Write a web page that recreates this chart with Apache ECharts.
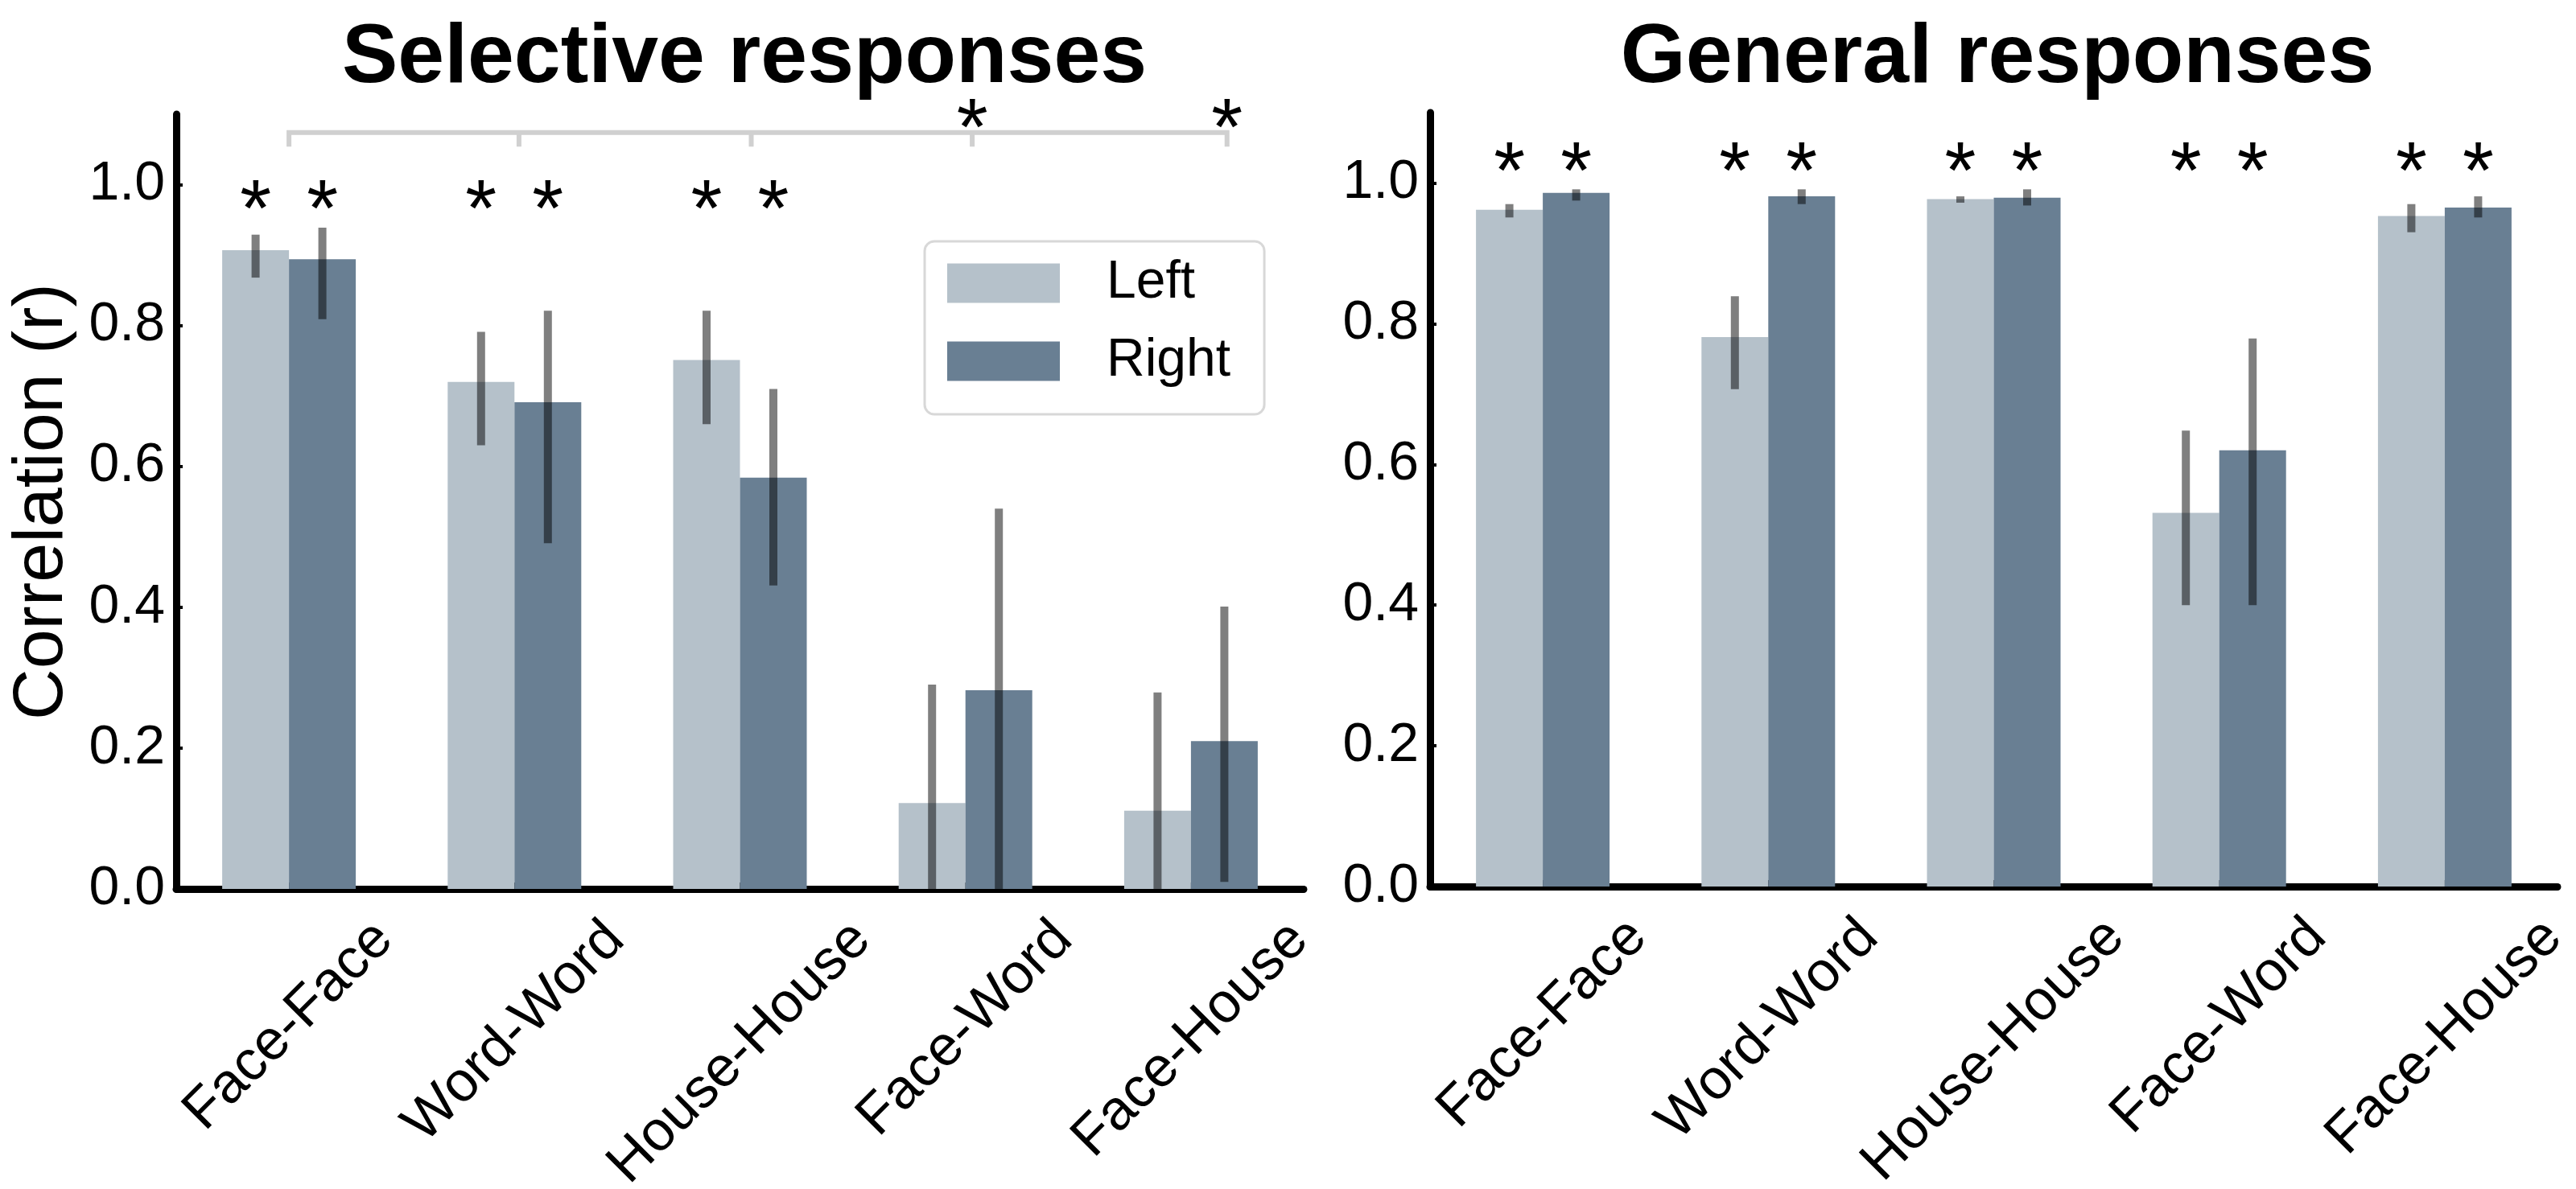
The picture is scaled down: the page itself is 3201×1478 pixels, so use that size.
<!DOCTYPE html>
<html>
<head>
<meta charset="utf-8">
<script src="https://cdn.jsdelivr.net/npm/echarts@6/dist/echarts.min.js"></script>
<style>
html,body{margin:0;padding:0;background:#fff;}
#c{width:3201px;height:1478px;}
</style>
</head>
<body>
<div id="c"></div>
<script>
// ---------------- data ----------------
const categories = ['Face-Face', 'Word-Word', 'House-House', 'Face-Word', 'Face-House'];
const seriesNames = ['Left', 'Right'];
const yTicks = [0.0, 0.2, 0.4, 0.6, 0.8, 1.0];

// Selective responses
const selLeft      = [0.907, 0.720, 0.751, 0.122, 0.111];
const selRight     = [0.894, 0.691, 0.584, 0.282, 0.210];
const selLeftLow   = [0.868, 0.630, 0.660, 0.000, 0.000];
const selLeftHigh  = [0.929, 0.791, 0.821, 0.290, 0.279];
const selRightLow  = [0.809, 0.491, 0.431, 0.000, 0.010];
const selRightHigh = [0.939, 0.821, 0.710, 0.540, 0.401];
const selStarCats  = [0, 1, 2];
const selStarLevel = 0.984;
const bracketX     = [0.0, 1.02, 2.05, 3.03, 4.16];
const bracketLevel = 1.074;
const bracketTickLow = 1.054;
const bracketStarX = [3.03, 4.16];
const bracketStarLevel = 1.10;

// General responses
const genLeft      = [0.962, 0.781, 0.977, 0.531, 0.953];
const genRight     = [0.986, 0.981, 0.979, 0.620, 0.965];
const genLeftLow   = [0.951, 0.707, 0.972, 0.400, 0.930];
const genLeftHigh  = [0.970, 0.839, 0.981, 0.648, 0.970];
const genRightLow  = [0.975, 0.970, 0.968, 0.400, 0.951];
const genRightHigh = [0.991, 0.991, 0.991, 0.779, 0.981];
const genStarCats  = [0, 1, 2, 3, 4];
const genStarLevel = 1.036;

// ---------------- style ----------------
const FONT = '"Liberation Sans", Arial, sans-serif';
const COL_L = '#b5c1ca';
const COL_R = '#697f93';
const BAR_W = 83;
const XLAB_FS = 70;
const XLAB_LH = 80;
const STAR_FS = 100;
const STAR_DY = 22;

// measure label widths so rotated labels are centred under ticks (matplotlib style)
const mctx = document.createElement('canvas').getContext('2d');
mctx.font = XLAB_FS + 'px ' + FONT;
const rich = {};
categories.forEach((c, i) => {
  const w = mctx.measureText(c).width;
  const p = Math.round(0.5 * (w + XLAB_LH));
  rich['p' + i] = {fontSize: XLAB_FS, fontFamily: FONT, color: '#000', lineHeight: XLAB_LH, padding: [p, p, 0, 0]};
});

function xAxisCfg(gi) {
  return {
    type: 'category', gridIndex: gi, data: categories,
    axisLine: {show: true, onZero: false, lineStyle: {color: '#000', width: 9}},
    axisTick: {show: true, inside: true, length: 8, alignWithLabel: true, lineStyle: {color: '#000', width: 4}},
    axisLabel: {
      interval: 0, rotate: 45, align: 'center', verticalAlign: 'middle', margin: 24,
      formatter: (v) => '{p' + categories.indexOf(v) + '|' + v + '}',
      rich: rich
    },
    splitLine: {show: false}
  };
}
function yAxisCfg(gi, withName) {
  const o = {
    type: 'value', gridIndex: gi, min: 0, max: 1.1, interval: 0.2,
    axisLine: {show: true, onZero: false, lineStyle: {color: '#000', width: 9}},
    axisTick: {show: true, inside: true, length: 8, lineStyle: {color: '#000', width: 4}, customValues: yTicks},
    axisLabel: {fontSize: 68, fontFamily: FONT, color: '#000', margin: 14, customValues: yTicks,
      formatter: (v) => (v > 1.05 ? '' : v.toFixed(1))},
    splitLine: {show: false}
  };
  if (withName) {
    o.name = 'Correlation (r)';
    o.nameLocation = 'middle';
    o.nameRotate = 90;
    o.nameGap = 122;
    o.nameTextStyle = {fontSize: 88, fontFamily: FONT, color: '#000'};
  }
  return o;
}

function errData(low, high, side) {
  return low.map((l, i) => [i, l, high[i], side]);
}
function errSeries(name, xi, yi, data) {
  return {
    type: 'custom', name: name + ' err', xAxisIndex: xi, yAxisIndex: yi, z: 5,
    data: data, silent: true,
    renderItem: (params, api) => {
      const a = api.coord([api.value(0), api.value(1)]);
      const b = api.coord([api.value(0), api.value(2)]);
      const x = a[0] + api.value(3) * BAR_W / 2;
      return {type: 'line', shape: {x1: x, y1: a[1], x2: x, y2: b[1]},
        style: {stroke: 'rgba(0,0,0,0.5)', lineWidth: 10, lineCap: 'butt'}};
    }
  };
}
function starSeries(xi, yi, data) {
  return {
    type: 'custom', xAxisIndex: xi, yAxisIndex: yi, z: 6, data: data, silent: true,
    renderItem: (params, api) => {
      const p = api.coord([api.value(0), api.value(1)]);
      return {type: 'text', x: p[0] + api.value(2) * BAR_W / 2, y: p[1] + STAR_DY,
        style: {text: '*', fontSize: STAR_FS, fontFamily: FONT, fill: '#000', align: 'center', verticalAlign: 'middle'}};
    }
  };
}
function starData(cats, level) {
  const d = [];
  cats.forEach(c => { d.push([c, level, -1]); d.push([c, level, 1]); });
  return d;
}
// bracket path: horizontal line with downward ticks
const bracketData = [];
bracketX.forEach((x, i) => {
  if (i === 0) { bracketData.push([x, bracketTickLow]); bracketData.push([x, bracketLevel]); }
  else { bracketData.push([x, bracketLevel]); bracketData.push([x, bracketTickLow]); bracketData.push([x, bracketLevel]); }
});

const option = {
  backgroundColor: '#fff',
  animation: false,
  title: [
    {text: 'Selective responses', left: 920, top: 16, textAlign: 'center',
      textStyle: {fontSize: 104, fontWeight: 'bold', fontFamily: FONT, color: '#000'}},
    {text: 'General responses', left: 2477, top: 16, textAlign: 'center',
      textStyle: {fontSize: 104, fontWeight: 'bold', fontFamily: FONT, color: '#000'}}
  ],
  legend: {
    data: seriesNames, orient: 'vertical', left: 1149, top: 300,
    itemWidth: 140, itemHeight: 49, itemGap: 31, icon: 'rect',
    padding: [19, 42, 33, 28],
    borderColor: '#d8d8d8', borderWidth: 3, borderRadius: 12,
    textStyle: {fontSize: 66, fontFamily: FONT, color: '#000', padding: [0, 0, 0, 53]},
    selectedMode: false
  },
  grid: [
    {left: 219, top: 142, width: 1401, height: 963, outerBoundsMode: 'none', containLabel: false},
    {left: 1777, top: 140, width: 1401, height: 962, outerBoundsMode: 'none', containLabel: false}
  ],
  xAxis: [
    xAxisCfg(0), xAxisCfg(1),
    {type: 'value', gridIndex: 0, min: -0.5, max: 4.5, show: false}
  ],
  yAxis: [yAxisCfg(0, true), yAxisCfg(1, false)],
  series: [
    {type: 'bar', name: 'Left', xAxisIndex: 0, yAxisIndex: 0, data: selLeft, barWidth: BAR_W, barGap: '0%', itemStyle: {color: COL_L}},
    {type: 'bar', name: 'Right', xAxisIndex: 0, yAxisIndex: 0, data: selRight, barWidth: BAR_W, barGap: '0%', itemStyle: {color: COL_R}},
    {type: 'bar', name: 'Left', xAxisIndex: 1, yAxisIndex: 1, data: genLeft, barWidth: BAR_W, barGap: '0%', itemStyle: {color: COL_L}},
    {type: 'bar', name: 'Right', xAxisIndex: 1, yAxisIndex: 1, data: genRight, barWidth: BAR_W, barGap: '0%', itemStyle: {color: COL_R}},
    errSeries('selL', 0, 0, errData(selLeftLow, selLeftHigh, -1)),
    errSeries('selR', 0, 0, errData(selRightLow, selRightHigh, 1)),
    errSeries('genL', 1, 1, errData(genLeftLow, genLeftHigh, -1)),
    errSeries('genR', 1, 1, errData(genRightLow, genRightHigh, 1)),
    starSeries(0, 0, starData(selStarCats, selStarLevel)),
    starSeries(1, 1, starData(genStarCats, genStarLevel)),
    starSeries(2, 0, bracketStarX.map(x => [x, bracketStarLevel, 0])),
    {type: 'line', xAxisIndex: 2, yAxisIndex: 0, data: bracketData, symbol: 'none', silent: true,
      lineStyle: {color: '#d0d0d0', width: 6, join: 'miter'}, z: 1}
  ]
};
const chart = echarts.init(document.getElementById('c'));
chart.setOption(option);
</script>
</body>
</html>
